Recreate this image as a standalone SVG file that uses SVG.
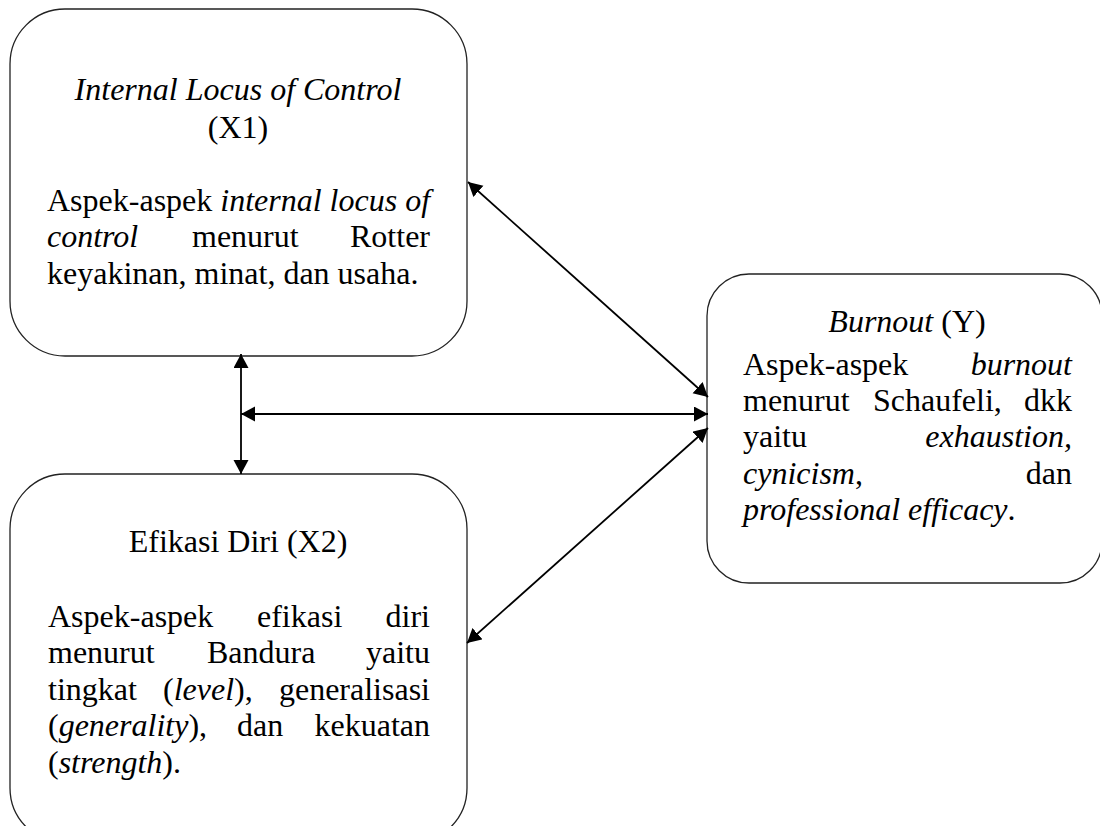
<svg xmlns="http://www.w3.org/2000/svg" width="1100" height="826" viewBox="0 0 1100 826">
<style>
.box{fill:#fff;stroke:#222;stroke-width:1.3}
text{font-family:"Liberation Serif","Times New Roman",serif;font-size:32px;fill:#000}
.i{font-style:italic}
.c{text-anchor:middle}
.e{text-anchor:end}
.conn line{stroke:#000;stroke-width:1.8;marker-start:url(#ah);marker-end:url(#ah)}
</style>
<defs>
<marker id="ah" markerUnits="userSpaceOnUse" markerWidth="16" markerHeight="16" refX="14" refY="7.5" orient="auto-start-reverse">
<path d="M0,0 L14,7.5 L0,15 z" fill="#000"/>
</marker>
</defs>
<rect width="1100" height="826" fill="#fff"/>
<g id="x1">
<rect class="box" x="10" y="9" width="457" height="347" rx="55" ry="55"/>
<text class="c i" x="238" y="100">Internal Locus of Control</text>
<text class="c" x="238" y="138">(X1)</text>
<text x="47" y="211">Aspek-aspek <tspan class="i">internal locus of</tspan></text>
<text class="i" x="47" y="247">control</text>
<text x="192" y="247">menurut</text>
<text class="e" x="430" y="247">Rotter</text>
<text x="47" y="284">keyakinan, minat, dan usaha.</text>
</g>
<g id="x2">
<rect class="box" x="10" y="474" width="457" height="369" rx="55" ry="55"/>
<text class="c" x="238" y="552">Efikasi Diri (X2)</text>
<text x="48" y="627">Aspek-aspek</text>
<text x="257" y="627">efikasi</text>
<text class="e" x="430" y="627">diri</text>
<text x="48" y="663">menurut</text>
<text x="207" y="663">Bandura</text>
<text class="e" x="430" y="663">yaitu</text>
<text x="48" y="700">tingkat</text>
<text x="163" y="700">(<tspan class="i">level</tspan>),</text>
<text class="e" x="430" y="700">generalisasi</text>
<text x="48" y="736">(<tspan class="i">generality</tspan>),</text>
<text x="237" y="736">dan</text>
<text class="e" x="430" y="736">kekuatan</text>
<text x="48" y="773">(<tspan class="i">strength</tspan>).</text>
</g>
<g id="y">
<rect class="box" x="707" y="274" width="395" height="309" rx="42" ry="42"/>
<text class="c" x="907" y="332"><tspan class="i">Burnout</tspan> (Y)</text>
<text x="743" y="375">Aspek-aspek</text>
<text class="e i" x="1072" y="375">burnout</text>
<text x="743" y="411">menurut</text>
<text x="873" y="411">Schaufeli,</text>
<text class="e" x="1072" y="411">dkk</text>
<text x="743" y="447">yaitu</text>
<text class="e i" x="1072" y="447">exhaustion,</text>
<text x="743" y="484"><tspan class="i">cynicism</tspan>,</text>
<text class="e" x="1072" y="484">dan</text>
<text x="743" y="520"><tspan class="i">professional efficacy</tspan>.</text>
</g>
<g id="connectors" class="conn">
<line x1="241" y1="354" x2="241" y2="474"/>
<line x1="241" y1="414" x2="708" y2="414"/>
<line x1="468" y1="182" x2="708" y2="397"/>
<line x1="708" y1="428" x2="467" y2="643"/>
</g>
</svg>
